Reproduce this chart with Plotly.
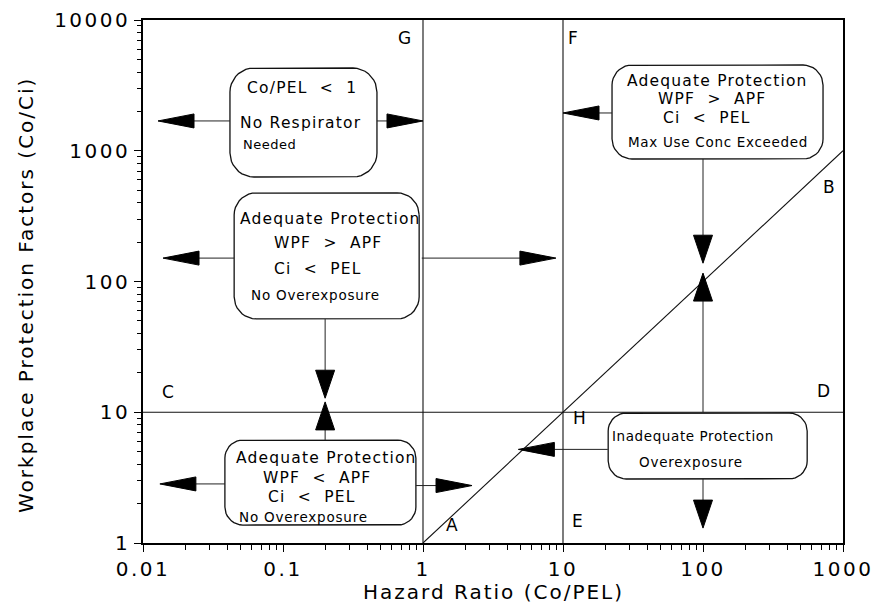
import numpy as np
import plotly.graph_objects as go

# ---------------- data ----------------
# boundaries of the decision regions
boundary_x = [1, 10]          # Co/PEL = 1 and Co/PEL = 10 (vertical lines)
boundary_y = [10]             # WPF = 10 (horizontal line)
diag_x = [1, 1000]            # WPF = hazard ratio
diag_y = [1, 1000]

region_labels = ["A", "B", "C", "D", "E", "F", "G", "H"]
region_x = [1.6, 790, 0.015, 720, 12.6, 11.8, 0.74, 13.2]
region_y = [1.37, 530, 14.3, 14.5, 1.47, 7300, 7300, 9.0]

# decision boxes: centre (data) and their lines of text
box_x = [0.14, 0.205, 0.185, 127, 108]
box_y = [1644, 157, 2.9, 1978, 5.52]
box_text = [
    ["Co/PEL\u00a0\u00a0<\u00a0\u00a01", "No Respirator", "Needed"],
    ["Adequate Protection", "WPF\u00a0\u00a0>\u00a0\u00a0APF", "Ci\u00a0\u00a0<\u00a0\u00a0PEL", "No Overexposure"],
    ["Adequate Protection", "WPF\u00a0\u00a0<\u00a0\u00a0APF", "Ci\u00a0\u00a0<\u00a0\u00a0PEL", "No Overexposure"],
    ["Adequate Protection", "WPF\u00a0\u00a0>\u00a0\u00a0APF", "Ci\u00a0\u00a0<\u00a0\u00a0PEL", "Max Use Conc Exceeded"],
    ["Inadequate Protection", "Overexposure"],
]

# arrows: tail and tip (data)
arrow_tail_x = [0.0418, 0.469, 0.0447, 0.98, 0.2, 0.2, 0.0385, 0.89, 22.4, 100, 100, 20.9, 100]
arrow_tail_y = [1690, 1690, 151, 151, 51.6, 6.14, 2.83, 2.75, 1945, 865, 10, 5.2, 3.09]
arrow_tip_x = [0.0128, 1.0, 0.0139, 8.9, 0.2, 0.2, 0.0132, 2.24, 10, 100, 100, 4.8, 100]
arrow_tip_y = [1690, 1690, 151, 151, 12.8, 12.0, 2.83, 2.75, 1945, 138, 116, 5.2, 1.3]

x_tickvals = [0.01, 0.1, 1, 10, 100, 1000]
x_ticktext = ["0.01", "0.1", "1", "10", "100", "1000"]
y_tickvals = [1, 10, 100, 1000, 10000]
y_ticktext = ["1", "10", "100", "1000", "10000"]

x_title = "Hazard Ratio (Co/PEL)"
y_title = "Workplace Protection Factors (Co/Ci)"

# ---------------- layout geometry / styles ----------------
W, H = 875, 604
ML, MR, MT, MB = 143, 32, 20, 61
XR = (-2, 3)
YR = (0, 4)
PW, PH = W - ML - MR, H - MT - MB
PXX = PW / (XR[1] - XR[0])   # px per decade (x)
PXY = PH / (YR[1] - YR[0])   # px per decade (y)
FONT = "DejaVu Sans"

# box sizes in px (w, h), corner radius
box_size = [(147, 109), (185, 126), (191, 85), (211, 94), (199, 66)]
box_radius = [24, 22, 18, 20, 18]
# per text line: (dy up px, dx px, font size, letter spacing, anchor)
box_line_style = [
    [(34.5, -1, 15.5, 1.2, "center"), (0, -3, 15.5, 1.2, "center"), (-21.5, -62.5, 13, 0.5, "left")],
    [(37, 3.5, 15.5, 1.2, "center"), (13, 1.5, 15.5, 1.2, "center"), (-13, -8.5, 15.5, 1.2, "center"), (-39, -11.5, 13.5, 0.8, "center")],
    [(24.5, 6.5, 15.5, 1.2, "center"), (4.5, -3.5, 15.5, 1.2, "center"), (-14.5, -8.5, 15.5, 1.2, "center"), (-34.5, -16.5, 13.5, 0.8, "center")],
    [(31, 0, 15.5, 1.2, "center"), (13, -5.5, 15.5, 1.2, "center"), (-6, -10.5, 15.5, 1.2, "center"), (-30, 0, 13.5, 0.7, "center")],
    [(10, -14.5, 13.5, 0.6, "center"), (-16, -16.5, 13.5, 0.8, "center")],
]


def spaced(t, px):
    return f'<span style="letter-spacing:{px}px">{t}</span>'


def to_data(cx, cy, dx, dy):
    """offset a data point by (dx, dy) pixels (dy positive = up)."""
    return 10 ** (np.log10(cx) + dx / PXX), 10 ** (np.log10(cy) + dy / PXY)


fig = go.Figure()

# boundary lines
lx, ly = [], []
for v in boundary_x:
    lx += [v, v, None]
    ly += [10 ** YR[0], 10 ** YR[1], None]
for v in boundary_y:
    lx += [10 ** XR[0], 10 ** XR[1], None]
    ly += [v, v, None]
lx += diag_x + [None]
ly += diag_y + [None]
fig.add_trace(go.Scatter(x=lx, y=ly, mode="lines", line=dict(color="#111", width=1.1),
                         hoverinfo="skip", showlegend=False))

# rounded boxes
bx, by = [], []
for (cx, cy), (w, h), r in zip(zip(box_x, box_y), box_size, box_radius):
    pts = []
    corners = [(w / 2 - r, h / 2 - r, 0), (-w / 2 + r, h / 2 - r, 90),
               (-w / 2 + r, -h / 2 + r, 180), (w / 2 - r, -h / 2 + r, 270)]
    for (ox, oy, a0) in corners:
        for a in np.linspace(a0, a0 + 90, 10):
            t = np.radians(a)
            pts.append((ox + r * np.cos(t), oy + r * np.sin(t)))
    pts.append(pts[0])
    for dx, dy in pts:
        px, py = to_data(cx, cy, dx, dy)
        bx.append(px)
        by.append(py)
    bx.append(None)
    by.append(None)
fig.add_trace(go.Scatter(x=bx, y=by, mode="lines", line=dict(color="#111", width=1.3),
                         hoverinfo="skip", showlegend=False))

# arrows
sx, sy, hx, hy = [], [], [], []
for tx, ty, px, py in zip(arrow_tail_x, arrow_tail_y, arrow_tip_x, arrow_tip_y):
    ddx = (np.log10(px) - np.log10(tx)) * PXX
    ddy = (np.log10(py) - np.log10(ty)) * PXY
    n = np.hypot(ddx, ddy)
    ux, uy = ddx / n, ddy / n
    horiz = abs(ux) > abs(uy)
    L, hw = (36, 7) if horiz else (28, 9.5)
    bxp, byp = -ux * L, -uy * L          # base centre offset from tip
    nx, ny = -uy, ux
    base = to_data(px, py, bxp, byp)
    sx += [tx, base[0], None]
    sy += [ty, base[1], None]
    for (ox, oy) in [(0, 0), (bxp + nx * hw, byp + ny * hw), (bxp - nx * hw, byp - ny * hw), (0, 0)]:
        qx, qy = to_data(px, py, ox, oy)
        hx.append(qx)
        hy.append(qy)
    hx.append(None)
    hy.append(None)
fig.add_trace(go.Scatter(x=sx, y=sy, mode="lines", line=dict(color="#222", width=1),
                         hoverinfo="skip", showlegend=False))
fig.add_trace(go.Scatter(x=hx, y=hy, mode="lines", fill="toself", fillcolor="black",
                         line=dict(color="black", width=1), hoverinfo="skip", showlegend=False))

annotations = []
for t, x, y in zip(region_labels, region_x, region_y):
    annotations.append(dict(x=np.log10(x), y=np.log10(y), text=t, showarrow=False,
                            font=dict(family=FONT, size=17, color="black"),
                            xanchor="center", yanchor="middle"))
for cx, cy, lines, styles in zip(box_x, box_y, box_text, box_line_style):
    for t, (dy, dx, fs, sp, anc) in zip(lines, styles):
        annotations.append(dict(x=np.log10(cx), y=np.log10(cy), text=spaced(t, sp), showarrow=False,
                                xshift=dx, yshift=dy, xanchor=anc, yanchor="middle",
                                font=dict(family=FONT, size=fs, color="black")))

# axis titles
annotations.append(dict(xref="paper", yref="paper", x=(493 - ML) / PW, y=(H - MB - 592) / PH,
                        text=spaced(x_title, 2), showarrow=False, xanchor="center", yanchor="middle",
                        font=dict(family=FONT, size=20, color="black")))
annotations.append(dict(xref="paper", yref="paper", x=(26 - ML) / PW, y=(H - MB - 295) / PH,
                        text=spaced(y_title, 2), showarrow=False, xanchor="center", yanchor="middle",
                        textangle=-90, font=dict(family=FONT, size=20, color="black")))

minor_x = [d * 10 ** e for e in range(-2, 3) for d in range(2, 10)]
minor_y = [d * 10 ** e for e in range(0, 4) for d in range(2, 10)]

fig.update_layout(
    width=W, height=H,
    margin=dict(l=ML, r=MR, t=MT, b=MB, autoexpand=False),
    paper_bgcolor="white", plot_bgcolor="white",
    annotations=annotations,
    showlegend=False,
    font=dict(family=FONT, color="black"),
)
fig.update_xaxes(
    type="log", range=list(XR), showgrid=False, zeroline=False, automargin=False,
    showline=True, linecolor="black", linewidth=1.5, mirror=True,
    tickvals=x_tickvals, ticktext=[spaced(t, 2.5) for t in x_ticktext], ticks="outside", ticklen=7,
    tickcolor="black", tickfont=dict(family=FONT, size=20, color="black"),
    minor=dict(tickvals=minor_x, ticks="outside", ticklen=5, tickcolor="black", showgrid=False),
)
fig.update_yaxes(
    type="log", range=list(YR), showgrid=False, zeroline=False, automargin=False,
    showline=True, linecolor="black", linewidth=1.5, mirror=True,
    tickvals=y_tickvals, ticktext=[spaced(t, 2.5) for t in y_ticktext], ticks="outside", ticklen=7,
    tickcolor="black", tickfont=dict(family=FONT, size=20, color="black"),
    minor=dict(tickvals=minor_y, ticks="outside", ticklen=4, tickcolor="black", showgrid=False),
)

fig.write_html("out.html")
